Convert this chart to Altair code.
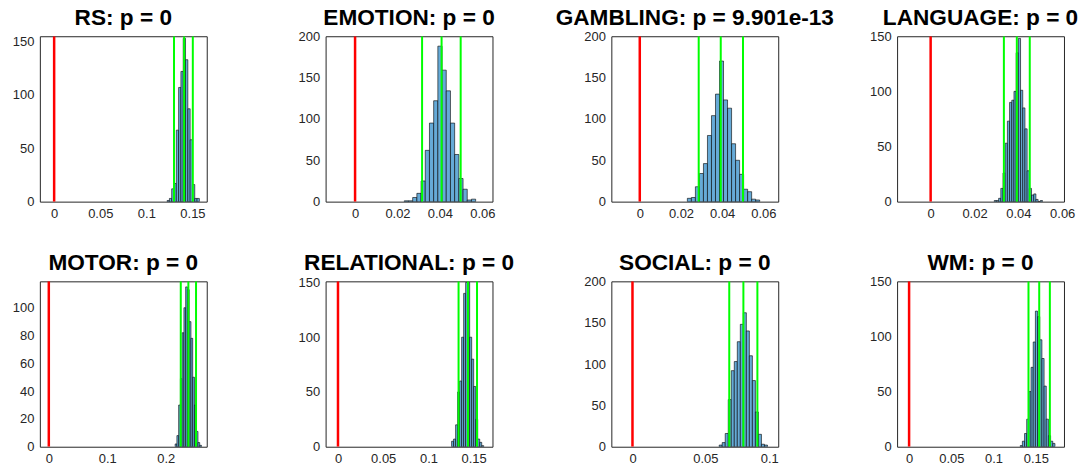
import altair as alt
import pandas as pd

# ---- data ----
TITLES = ["RS: p = 0", "EMOTION: p = 0", "GAMBLING: p = 9.901e-13", "LANGUAGE: p = 0",
          "MOTOR: p = 0", "RELATIONAL: p = 0", "SOCIAL: p = 0", "WM: p = 0"]

# histogram bins: first bin edge, bin width, counts
RS_START, RS_WIDTH = 0.1225, 0.0025
RS_COUNTS = [1, 3, 12, 17, 67, 107, 122, 153, 133, 87, 58, 16, 3, 3]

EMO_START, EMO_WIDTH = 0.0232, 0.00198
EMO_COUNTS = [1, 1, 5, 10, 25, 62, 95, 122, 188, 159, 134, 95, 57, 28, 15, 2, 3]

GAM_START, GAM_WIDTH = 0.0231, 0.00195
GAM_COUNTS = [4, 5, 18, 34, 46, 80, 104, 130, 170, 123, 113, 70, 50, 33, 15, 12, 3, 2]

LAN_START, LAN_WIDTH = 0.029, 0.001
LAN_COUNTS = [1, 1, 3, 12, 26, 53, 73, 90, 92, 100, 135, 148, 101, 85, 66, 28, 12, 6, 7, 2, 0, 1]

MOT_START, MOT_WIDTH = 0.216, 0.003
MOT_COUNTS = [2, 8, 30, 49, 82, 100, 115, 113, 90, 78, 50, 30, 11, 3, 1]

REL_START, REL_WIDTH = 0.1256, 0.00222
REL_COUNTS = [5, 7, 20, 50, 60, 100, 140, 150, 150, 100, 80, 55, 25, 7, 4, 1]

SOC_START, SOC_WIDTH = 0.0595, 0.00207
SOC_COUNTS = [2, 5, 16, 57, 92, 103, 127, 148, 162, 140, 110, 80, 42, 15, 3, 2]

WM_START, WM_WIDTH = 0.1315, 0.00257
WM_COUNTS = [1, 5, 12, 25, 50, 72, 95, 123, 118, 97, 80, 55, 25, 10, 5, 3]

# green lines: lower CI, mean, upper CI ; red line: null value
GREEN = [[0.130, 0.141, 0.1504], [0.0316, 0.0408, 0.0498], [0.0286, 0.0393, 0.0501],
         [0.0334, 0.0393, 0.0452], [0.2256, 0.2386, 0.2517], [0.1333, 0.1437, 0.1537],
         [0.0664, 0.0761, 0.0857], [0.1413, 0.154, 0.1666]]
RED = [0.0]

XDOM = [[-0.0155, 0.1655], [-0.0139, 0.0648], [-0.0138, 0.0672], [-0.0153, 0.0608],
        [-0.0153, 0.27], [-0.0137, 0.1708], [-0.0145, 0.1], [-0.0142, 0.1833]]
YDOM = [[0, 155], [0, 200], [0, 200], [0, 150], [0, 119], [0, 151], [0, 200], [0, 150]]
XTICKS = [[0, 0.05, 0.1, 0.15], [0, 0.02, 0.04, 0.06], [0, 0.02, 0.04, 0.06], [0, 0.02, 0.04, 0.06],
          [0, 0.1, 0.2], [0, 0.05, 0.1, 0.15], [0, 0.05, 0.1], [0, 0.05, 0.1, 0.15]]
YTICKS = [[0, 50, 100, 150], [0, 50, 100, 150, 200], [0, 50, 100, 150, 200], [0, 50, 100, 150],
          [0, 20, 40, 60, 80, 100], [0, 50, 100, 150], [0, 50, 100, 150, 200], [0, 50, 100, 150]]

HISTS = [(RS_START, RS_WIDTH, RS_COUNTS), (EMO_START, EMO_WIDTH, EMO_COUNTS),
         (GAM_START, GAM_WIDTH, GAM_COUNTS), (LAN_START, LAN_WIDTH, LAN_COUNTS),
         (MOT_START, MOT_WIDTH, MOT_COUNTS), (REL_START, REL_WIDTH, REL_COUNTS),
         (SOC_START, SOC_WIDTH, SOC_COUNTS), (WM_START, WM_WIDTH, WM_COUNTS)]

FONT = "Liberation Sans"
LABEL_COLOR = "#262626"
W, H = 167.5, 166
LABEL_SIZE = 13
TITLE_GAP = 6.7


def title_offset(i):
    # the top y label can poke above the plot; keep every title the same distance from the box
    ymax = YDOM[i][1]
    top_tick = max(YTICKS[i])
    gap_px = (ymax - top_tick) / ymax * H
    poke = max(0.0, LABEL_SIZE / 2 - gap_px)
    return TITLE_GAP - poke


def panel(i):
    start, width, counts = HISTS[i]
    df = pd.DataFrame({
        "x0": [start + k * width for k in range(len(counts))],
        "x1": [start + (k + 1) * width for k in range(len(counts))],
        "count": counts,
    })
    xs = alt.Scale(domain=XDOM[i], nice=False, zero=False)
    ys = alt.Scale(domain=YDOM[i], nice=False, zero=True)
    common = dict(grid=False, domain=False, ticks=False, tickSize=0, title=None,
                  labelFont=FONT, labelFontSize=LABEL_SIZE, labelColor=LABEL_COLOR)
    bars = alt.Chart(df).mark_bar(
        fill="#66AAD7", stroke="#000000", strokeWidth=0.6, clip=True
    ).encode(
        x=alt.X("x0:Q", scale=xs,
                axis=alt.Axis(values=XTICKS[i], format="~g", labelPadding=6, **common)),
        x2="x1:Q",
        y=alt.Y("count:Q", scale=ys,
                axis=alt.Axis(values=YTICKS[i], labelPadding=6, **common)),
        y2=alt.datum(0),
    )
    green = alt.Chart(pd.DataFrame({"v": GREEN[i]})).mark_rule(
        color="#00FF00", strokeWidth=2, clip=True
    ).encode(x="v:Q")
    red = alt.Chart(pd.DataFrame({"v": RED})).mark_rule(
        color="#FF0000", strokeWidth=2.5, clip=True
    ).encode(x="v:Q")
    return alt.layer(bars, green, red).properties(
        width=W, height=H,
        title=alt.TitleParams(TITLES[i], anchor="middle", frame="group", fontSize=22.7,
                              fontWeight="bold", font=FONT, color="#000000",
                              offset=title_offset(i)),
    )


chart = alt.concat(
    *[panel(i) for i in range(8)], columns=4,
    spacing=alt.RowColnumber(row=80, column=118.8), bounds="flush", background="white",
    padding={"left": 11, "top": 5.5, "right": 5, "bottom": 5},
).configure_view(
    stroke="#262626", strokeWidth=1
)

chart.save("out.html", embed_options={"renderer": "svg", "actions": False})
